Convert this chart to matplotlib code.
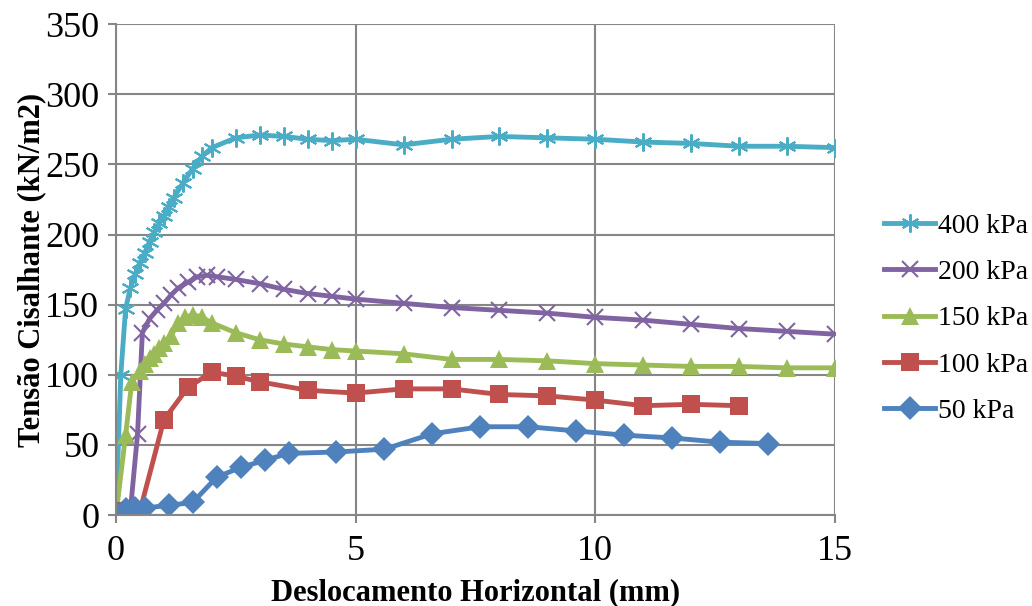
import matplotlib
matplotlib.use('Agg')
from matplotlib import pyplot as plt

plt.rcParams['font.family'] = ['Liberation Serif', 'DejaVu Serif']

# 400 kPa
x400 = [0, 0.1, 0.2, 0.3, 0.4, 0.5, 0.6, 0.7, 0.8, 0.9, 1.0, 1.1, 1.2, 1.4, 1.6, 1.8, 2.0,
        2.5, 3, 3.5, 4, 4.5, 5, 6, 7, 8, 9, 10, 11, 12, 13, 14, 15]
y400 = [0, 100, 147, 162, 172, 180, 187, 195, 202, 208, 213, 220, 226, 237, 247, 256, 262,
        269, 271, 270, 268, 267, 268, 264, 268, 270, 269, 268, 266, 265, 263, 263, 262]

# 200 kPa
x200 = [0, 0.3, 0.45, 0.55, 0.7, 0.85, 1.0, 1.15, 1.3, 1.5, 1.7, 1.9, 2.1, 2.5, 3, 3.5, 4,
        4.5, 5, 6, 7, 8, 9, 10, 11, 12, 13, 14, 15]
y200 = [0, 3, 58, 130, 140, 146, 151, 157, 162, 166, 170, 171, 170, 168, 165, 161, 158,
        156, 154, 151, 148, 146, 144, 141, 139, 136, 133, 131, 129]

# 150 kPa
x150 = [0, 0.2, 0.33, 0.5, 0.6, 0.7, 0.8, 0.9, 1.0, 1.15, 1.3, 1.45, 1.6, 1.8, 2.0, 2.5, 3.0,
        3.5, 4.0, 4.5, 5, 6, 7, 8, 9, 10, 11, 12, 13, 14, 15]
y150 = [0, 57, 95, 103, 108, 112, 115, 119, 123, 128, 137, 141, 143, 141, 137, 130, 125,
        122, 120, 118, 117, 115, 111, 111, 110, 108, 107, 106, 106, 105, 105]

# 100 kPa
x100 = [0, 0.5, 1, 1.5, 2, 2.5, 3, 4, 5, 6, 7, 8, 9, 10, 11, 12, 13]
y100 = [3, 3, 68, 91, 102, 99, 95, 89, 87, 90, 90, 86, 85, 82, 78, 79, 78]

# 50 kPa
x50 = [0, 0.2, 0.4, 0.6, 1.1, 1.6, 2.1, 2.6, 3.1, 3.6, 4.6, 5.6, 6.6, 7.6, 8.6, 9.6, 10.6,
       11.6, 12.6, 13.6]
y50 = [1, 4, 5, 5, 7, 9, 27, 34, 39, 44, 45, 47, 58, 63, 63, 60, 57, 55, 52, 51]

fig = plt.figure(figsize=(10.32, 6.06), dpi=100)
ax = fig.add_axes([0.1124, 0.150, 0.6967, 0.810])

ax.plot(x400, y400, color='#4BACC6', lw=3.5, marker=(6, 2, 0), ms=13, mew=1.5,
        label='400 kPa')
ax.plot(x200, y200, color='#8064A2', lw=3.5, marker='x', ms=12, mew=1.5,
        label='200 kPa')
ax.plot(x150, y150, color='#9BBB59', lw=3.5, marker='^', ms=13, mew=0,
        label='150 kPa')
ax.plot(x100, y100, color='#C0504D', lw=3.5, marker='s', ms=13, mew=0,
        label='100 kPa')
ax.plot(x50, y50, color='#4F81BD', lw=3.5, marker='D', ms=12, mew=0,
        label='50 kPa')

ax.set_xlim(0, 15)
ax.set_ylim(0, 350)
ax.set_xticks([0, 5, 10, 15])
ax.set_yticks(range(0, 351, 50))
ax.grid(True, color='#868686', lw=1.5)
ax.set_axisbelow(True)
for s in ax.spines.values():
    s.set_visible(False)
ax.spines['left'].set_visible(True)
ax.spines['bottom'].set_visible(True)
ax.spines['left'].set_color('#868686')
ax.spines['bottom'].set_color('#868686')
ax.spines['left'].set_linewidth(1.5)
ax.spines['bottom'].set_linewidth(1.5)
ax.tick_params(axis='both', labelsize=26, color='#868686', width=1.5, length=6)
ax.tick_params(axis='y', pad=6)
ax.tick_params(axis='x', pad=8)

ax.set_xlabel('Deslocamento Horizontal (mm)', fontsize=22, fontweight='bold', labelpad=8)
ax.set_ylabel('Tensão Cisalhante (kN/m2)', fontsize=22, fontweight='bold', labelpad=-1)

ax.legend(loc='center left', bbox_to_anchor=(1.068, 0.40), frameon=False, fontsize=20,
          handlelength=1.85, labelspacing=0.75, handletextpad=0.1, borderpad=0,
          borderaxespad=0)

fig.savefig('out.png', dpi=100)
